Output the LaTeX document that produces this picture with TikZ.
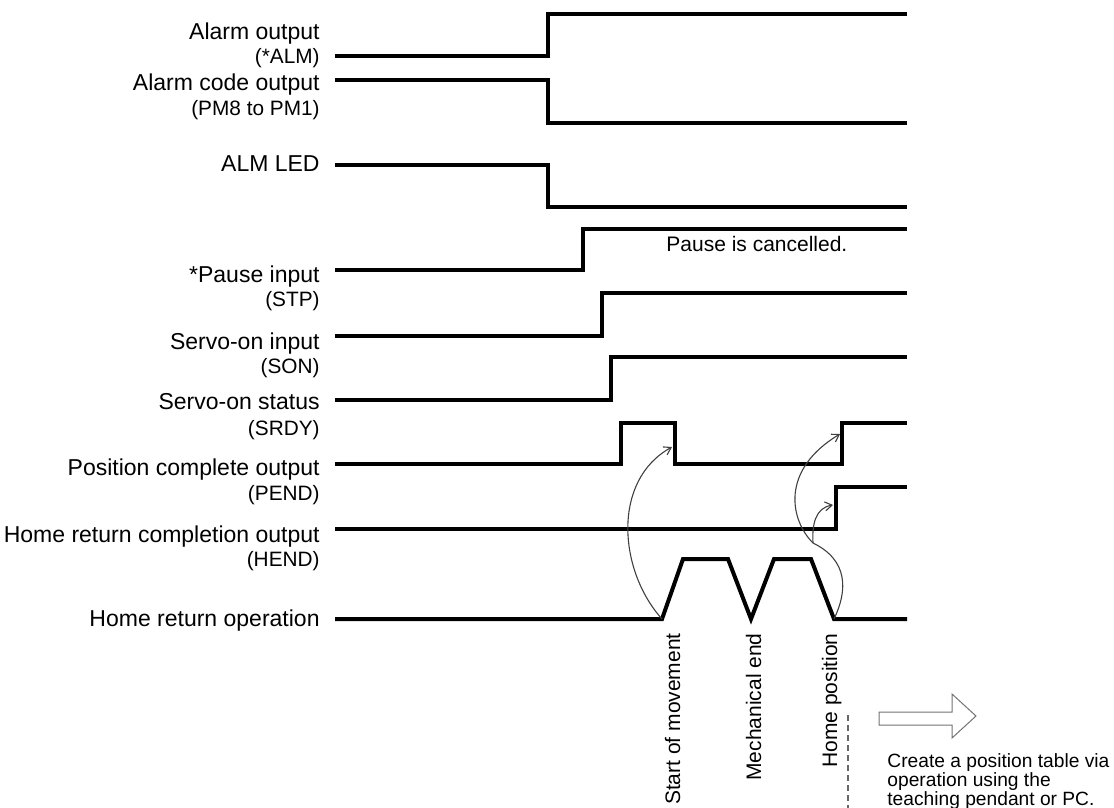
\documentclass[tikz,border=0pt]{standalone}
\usepackage{fontspec}
\setmainfont{Liberation Sans}
\usetikzlibrary{arrows.meta}
\begin{document}
\begin{tikzpicture}[x=0.5pt,y=-0.5pt,
  sig/.style={line width=2pt, line join=miter, line cap=butt},
  mainlbl/.style={anchor=base east, inner sep=0pt, font=\fontsize{11.5pt}{13pt}\selectfont},
  sublbl/.style={anchor=base east, inner sep=0pt, font=\fontsize{10.4pt}{12pt}\selectfont},
  vlbl/.style={anchor=base east, rotate=90, inner sep=0pt, font=\fontsize{10.5pt}{12pt}\selectfont},
  cur/.style={line width=0.55pt, draw=black!75, -{Straight Barb[length=3.5pt,width=4.5pt]}}
]
\useasboundingbox (0,0) rectangle (1114,808);

% labels
\node[mainlbl] (l1) at (320,40) {Alarm output};
\node[sublbl]  (l1s) at (320,64) {(*ALM)};
\node[mainlbl] (l2) at (320,91) {Alarm code output};
\node[sublbl]  (l2s) at (320,116) {(PM8 to PM1)};
\node[mainlbl] (l3) at (320,171) {ALM LED};
\node[mainlbl] (l4) at (320,282) {*Pause input};
\node[sublbl]  (l4s) at (320,306) {(STP)};
\node[mainlbl] (l5) at (320,349) {Servo-on input};
\node[sublbl]  (l5s) at (320,373) {(SON)};
\node[mainlbl] (l6) at (320,409) {Servo-on status};
\node[sublbl]  (l6s) at (320,435) {(SRDY)};
\node[mainlbl] (l7) at (320,475) {Position complete output};
\node[sublbl]  (l7s) at (320,500) {(PEND)};
\node[mainlbl] (l8) at (320,542) {Home return completion output};
\node[sublbl]  (l8s) at (320,566) {(HEND)};
\node[mainlbl] (l9) at (320,626) {Home return operation};

% signals
\draw[sig] (335,56) -- (548,56) -- (548,14) -- (907,14);
\draw[sig] (335,80) -- (548,80) -- (548,123) -- (907,123);
\draw[sig] (335,165) -- (548,165) -- (548,207) -- (907,207);
\draw[sig] (335,270) -- (583,270) -- (583,229) -- (907,229);
\draw[sig] (335,336) -- (602,336) -- (602,293) -- (907,293);
\draw[sig] (335,400) -- (611,400) -- (611,357) -- (907,357);
\draw[sig] (335,464) -- (621,464) -- (621,423) -- (675,423) -- (675,464) -- (842,464) -- (842,423) -- (907,423);
\draw[sig] (335,529) -- (836,529) -- (836,487) -- (907,487);
\draw[sig] (335,619) -- (662,619) -- (683,559) -- (728,559) -- (751,619) -- (774,559) -- (811,559) -- (834,619) -- (907,619);

\node[inner sep=0pt, anchor=base west, font=\fontsize{10.5pt}{12pt}\selectfont] (pc) at (666,251) {Pause is cancelled.};

% points
\coordinate (sm) at (662,619);
\coordinate (hp) at (834,619);
\coordinate (pendfall) at (672,447);
\coordinate (pendrise) at (840,434);
\coordinate (hendrise) at (833,505);
\coordinate (split) at (813,543);

\draw[cur] (sm) .. controls (618,570) and (612,480) .. (pendfall);
\draw[line width=0.55pt, draw=black!75] (hp) .. controls (848,590) and (848,560) .. (split);
\draw[cur] (split) .. controls (812,525) and (815,508) .. (hendrise);
\draw[cur] (split) .. controls (790,520) and (780,470) .. (pendrise);

% rotated labels
\node[vlbl] (v1) at (680,633) {Start of movement};
\node[vlbl] (v2) at (761,633) {Mechanical end};
\node[vlbl] (v3) at (837,633) {Home position};

\coordinate (dtop) at (848,715);
\coordinate (dbot) at (848,808);
\draw[black!60, line width=0.8pt, dash pattern=on 3pt off 2pt] (dtop) -- (dbot);

% hollow arrow
\draw[black!55, line width=0.5pt, fill=white] (879,712) -- (952,712) -- (952,694) -- (976,716) -- (952,738) -- (952,725) -- (879,725) -- cycle;

\node[inner sep=0pt, anchor=base west, align=left, font=\fontsize{9.6pt}{9.3pt}\selectfont] (ct) at (887,805) {Create a position table via\\operation using the\\teaching pendant or PC.};
\end{tikzpicture}
\end{document}
